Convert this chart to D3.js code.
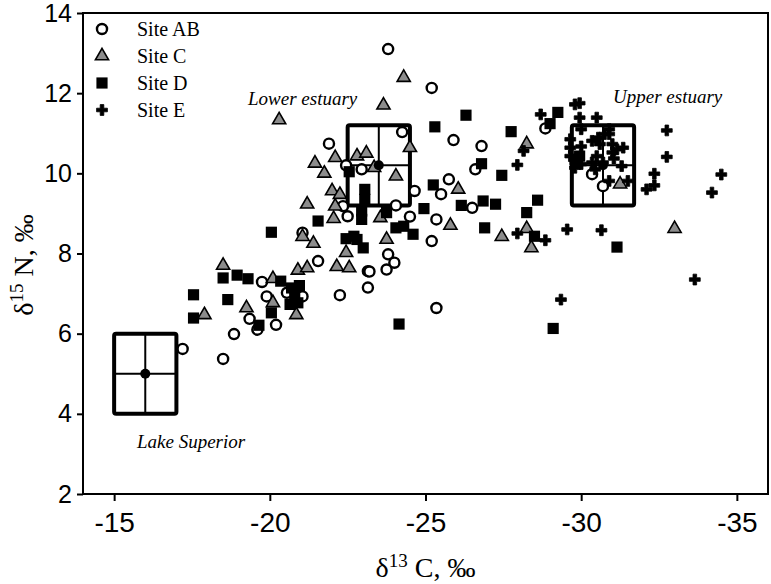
<!DOCTYPE html>
<html lang="en">
<head>
<meta charset="utf-8">
<title>d13C vs d15N</title>
<style>
  body { margin: 0; background: #fff; }
  svg { display: block; }
</style>
</head>
<body>
<div id="chart"></div>
<script src="https://cdn.jsdelivr.net/npm/d3@7/dist/d3.min.js"></script>
<script>

// ---- data: [d13C, d15N] ----
var siteAB = [
  [-17.2, 5.62], [-18.5, 5.37], [-18.85, 5.99], [-19.35, 6.37], [-19.6, 6.1],
  [-20.2, 6.22], [-19.9, 6.93], [-19.75, 7.29], [-20.55, 7.02], [-21.05, 6.93],
  [-21.55, 7.81], [-22.25, 6.96], [-21.05, 8.52], [-22.5, 8.93], [-23.15, 7.56],
  [-23.15, 7.15], [-23.8, 13.1], [-25.2, 12.13], [-21.9, 10.74], [-24.25, 11.03],
  [-25.9, 10.83], [-26.8, 10.68], [-26.6, 10.1], [-22.95, 10.1], [-25.75, 9.85],
  [-25.5, 9.48], [-24.65, 9.56], [-26.5, 9.14], [-24.05, 9.2], [-24.5, 8.92],
  [-25.35, 8.85], [-25.2, 8.31], [-23.8, 7.98], [-24.0, 7.77], [-23.75, 7.6],
  [-23.2, 7.55], [-25.35, 6.64], [-28.85, 11.12], [-30.7, 9.68], [-30.35, 9.98],
  [-22.35, 9.18], [-22.45, 10.2]
];
var siteC = [
  [-18.5, 7.7], [-17.9, 6.47], [-19.25, 6.64], [-20.1, 6.77], [-20.1, 7.37],
  [-20.85, 6.47], [-20.9, 7.58], [-21.2, 7.64], [-22.15, 7.67], [-22.55, 7.64],
  [-22.45, 8.02], [-21.05, 8.42], [-21.4, 8.25], [-21.2, 9.23], [-22.05, 8.87],
  [-22.1, 9.18], [-22.0, 9.56], [-22.25, 9.47], [-24.3, 12.39], [-23.65, 11.7],
  [-20.3, 11.33], [-24.5, 10.64], [-22.1, 10.39], [-21.45, 10.25], [-21.75, 10.0],
  [-22.8, 10.43], [-23.1, 10.5], [-24.05, 9.93], [-26.05, 9.6], [-23.35, 10.14],
  [-25.8, 8.7], [-23.55, 8.89], [-23.75, 8.35], [-28.25, 10.73], [-27.45, 8.42],
  [-28.25, 8.62], [-28.4, 8.14], [-33.0, 8.62], [-31.25, 9.73]
];
var siteD = [
  [-18.5, 7.39], [-18.95, 7.46], [-19.3, 7.37], [-17.55, 6.97], [-18.65, 6.85],
  [-17.55, 6.39], [-19.65, 6.21], [-20.05, 6.52], [-20.35, 7.31], [-20.7, 7.14],
  [-20.95, 7.2], [-20.8, 6.93], [-20.65, 6.73], [-20.9, 6.77], [-20.05, 8.53],
  [-21.55, 8.81], [-22.45, 8.37], [-22.8, 8.35], [-23.0, 8.14], [-26.3, 11.45],
  [-25.3, 11.16], [-27.75, 11.04], [-26.8, 10.24], [-27.45, 9.95], [-22.55, 10.04],
  [-25.25, 9.71], [-23.05, 9.6], [-23.05, 9.35], [-22.95, 9.06], [-22.95, 8.85],
  [-26.15, 9.2], [-26.85, 9.31], [-27.25, 9.23], [-26.9, 8.64], [-24.95, 9.12],
  [-23.75, 9.02], [-24.05, 8.64], [-24.6, 8.48], [-24.3, 8.68], [-22.7, 8.43],
  [-28.6, 9.33], [-28.25, 9.02], [-28.5, 8.43], [-31.15, 8.16], [-29.1, 6.13],
  [-24.15, 6.24], [-29.25, 11.52], [-29.0, 11.24], [-29.95, 10.43], [-29.8, 10.35]
];
var siteE = [
  [-27.95, 10.21], [-28.15, 10.56], [-27.95, 8.5], [-28.85, 8.33], [-29.55, 8.6],
  [-30.65, 8.58], [-33.65, 7.35], [-29.35, 6.85], [-32.1, 9.6], [-32.35, 9.7],
  [-34.2, 9.52], [-28.7, 11.47], [-29.8, 11.72], [-29.95, 11.75], [-29.95, 11.39],
  [-30.5, 11.39], [-32.75, 11.07], [-32.75, 10.41], [-32.35, 9.99], [-34.5, 9.97],
  [-30.0, 11.1], [-30.9, 11.1], [-30.9, 10.98], [-29.65, 10.85], [-30.35, 10.81],
  [-30.6, 10.73], [-31.0, 10.73], [-31.15, 10.6], [-31.35, 10.64], [-30.0, 10.67],
  [-30.5, 10.43], [-29.65, 10.43], [-29.85, 10.35], [-30.0, 10.23], [-30.35, 10.27],
  [-30.7, 10.27], [-31.05, 10.37], [-31.3, 10.18], [-29.8, 10.14], [-30.45, 10.1],
  [-30.9, 9.81], [-31.5, 9.81], [-29.65, 10.64], [-30.55, 10.89], [-30.75, 10.98],
  [-31.0, 10.52]
];

// source means with +/- 1 unit boxes
var boxNames = ["Lake Superior", "Lower estuary", "Upper estuary"];
var boxC13 = [-16.0, -23.5, -30.7];
var boxN15 = [5.0, 10.2, 10.2];
var boxSdC = [1.0, 1.0, 1.0];
var boxSdN = [1.0, 1.0, 1.0];

var legendNames = ["Site AB", "Site C", "Site D", "Site E"];
var xTicks = [-15, -20, -25, -30, -35];
var yTicks = [2, 4, 6, 8, 10, 12, 14];

// ---- layout ----
var W = 771, H = 584;
var plotL = 83, plotR = 768, plotT = 13, plotB = 494;

var svg = d3.select("#chart").append("svg")
  .attr("width", W)
  .attr("height", H);

var x = d3.scaleLinear().domain([-14, -36]).range([plotL, plotR]);
var y = d3.scaleLinear().domain([2, 14]).range([plotB, plotT]);

var tickFont = "'Liberation Sans Narrow', 'Arial Narrow', 'Liberation Sans', sans-serif";
var serif = "'Liberation Serif', 'Times New Roman', serif";

// x axis
var gx = svg.append("g")
  .attr("transform", "translate(0," + plotB + ")")
  .call(d3.axisBottom(x).tickValues(xTicks).tickSize(7).tickSizeOuter(0).tickPadding(11)
    .tickFormat(function(d) { return String(d); }));
gx.select(".domain").remove();
gx.selectAll("line").attr("stroke", "#000").attr("stroke-width", 2);
gx.selectAll("text").attr("font-family", tickFont).attr("font-size", 28).attr("fill", "#000");

// y axis
var gy = svg.append("g")
  .attr("transform", "translate(" + plotL + ",0)")
  .call(d3.axisLeft(y).tickValues(yTicks).tickSize(6).tickSizeOuter(0).tickPadding(5));
gy.select(".domain").remove();
gy.selectAll("line").attr("stroke", "#000").attr("stroke-width", 2);
gy.selectAll("text").attr("font-family", "'Liberation Sans', Arial, sans-serif")
  .attr("font-size", 25).attr("fill", "#000");

// frame
svg.append("rect")
  .attr("x", plotL).attr("y", plotT)
  .attr("width", plotR - plotL).attr("height", plotB - plotT)
  .attr("fill", "none").attr("stroke", "#000").attr("stroke-width", 2);

// axis titles
var xt = svg.append("text")
  .attr("x", (plotL + plotR) / 2).attr("y", 577)
  .attr("text-anchor", "middle")
  .attr("font-family", serif).attr("font-size", 28);
xt.append("tspan").text("δ");
xt.append("tspan").attr("font-size", 19).attr("dy", -10).text("13");
xt.append("tspan").attr("dy", 10).text(" C, ‰");

var yt = svg.append("text")
  .attr("transform", "translate(33,265) rotate(-90)")
  .attr("text-anchor", "middle")
  .attr("font-family", serif).attr("font-size", 28);
yt.append("tspan").text("δ");
yt.append("tspan").attr("font-size", 19).attr("dy", -10).text("15");
yt.append("tspan").attr("dy", 10).text(" N, ‰");

// source boxes
var boxes = boxNames.map(function(n, i) {
  return {name: n, c: boxC13[i], n: boxN15[i], sc: boxSdC[i], sn: boxSdN[i]};
});
var gb = svg.append("g");
boxes.forEach(function(b) {
  var x0 = x(b.c - b.sc), x1 = x(b.c + b.sc);
  var y0 = y(b.n + b.sn), y1 = y(b.n - b.sn);
  var xa = Math.min(x0, x1), xb = Math.max(x0, x1);
  gb.append("line").attr("x1", x(b.c)).attr("x2", x(b.c)).attr("y1", y0).attr("y2", y1)
    .attr("stroke", "#000").attr("stroke-width", 2);
  gb.append("line").attr("x1", xa).attr("x2", xb).attr("y1", y(b.n)).attr("y2", y(b.n))
    .attr("stroke", "#000").attr("stroke-width", 2);
  gb.append("rect").attr("x", xa).attr("y", y0)
    .attr("width", xb - xa).attr("height", y1 - y0).attr("rx", 2)
    .attr("fill", "none").attr("stroke", "#000").attr("stroke-width", 4);
});

// points
var sym = {
  AB: d3.symbol().type(d3.symbolCircle).size(80),
  C: d3.symbol().type(d3.symbolTriangle).size(75),
  D: d3.symbol().type(d3.symbolSquare).size(125),
  E: d3.symbol().type(d3.symbolCross).size(65)
};
function drawSite(data, key) {
  var g = svg.append("g");
  g.selectAll("path").data(data).enter().append("path")
    .attr("transform", function(d) { return "translate(" + x(d[0]) + "," + y(d[1]) + ")"; })
    .attr("d", sym[key]())
    .attr("fill", key == "AB" ? "#fff" : key == "C" ? "#8c8c8c" : "#000")
    .attr("stroke", "#000")
    .attr("stroke-width", key == "AB" ? 2.4 : key == "C" ? 1.6 : key == "E" ? 0.8 : 0);
}
drawSite(siteAB, "AB");
drawSite(siteC, "C");
drawSite(siteD, "D");
drawSite(siteE, "E");

// mean dots on top
boxes.forEach(function(b) {
  svg.append("circle").attr("cx", x(b.c)).attr("cy", y(b.n)).attr("r", 5).attr("fill", "#000");
});

// box labels
var labelPos = [[137, 448], [248, 105], [613, 103]];
boxes.forEach(function(b, i) {
  svg.append("text")
    .attr("x", labelPos[i][0]).attr("y", labelPos[i][1])
    .attr("font-family", serif).attr("font-style", "italic").attr("font-size", 19)
    .text(b.name);
});

// legend
var keys = ["AB", "C", "D", "E"];
var lg = svg.append("g");
legendNames.forEach(function(n, i) {
  var cy = 29 + i * 27;
  lg.append("path")
    .attr("transform", "translate(102," + cy + ")")
    .attr("d", sym[keys[i]]())
    .attr("fill", i == 0 ? "#fff" : i == 1 ? "#8c8c8c" : "#000")
    .attr("stroke", "#000")
    .attr("stroke-width", i == 0 ? 2.4 : i == 1 ? 1.6 : i == 3 ? 0.8 : 0);
  lg.append("text")
    .attr("x", 137).attr("y", cy + 7)
    .attr("font-family", serif).attr("font-size", 20)
    .text(n);
});

</script>
</body>
</html>
